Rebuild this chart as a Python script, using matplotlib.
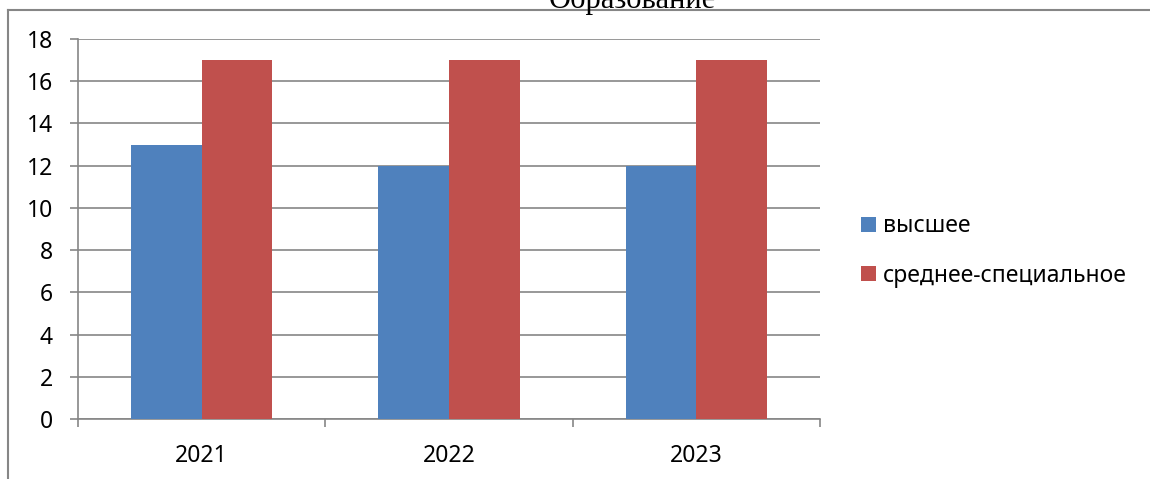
import numpy as np
import matplotlib.pyplot as plt
from matplotlib.lines import Line2D

# Данные
anos = ['2021', '2022', '2023']
vysshee = [13, 12, 12]
srednee_spec = [17, 17, 17]
y_ticks = list(range(0, 19, 2))

azul = '#4F81BD'
rojo = '#C0504D'
gris = '#868686'
fuente = ['Noto Sans', 'DejaVu Sans']

plt.rcParams['font.family'] = fuente

W, H = 1150, 479
fig = plt.figure(figsize=(W / 100, H / 100), dpi=100)

# Ejes en coordenadas de píxeles
x0, x1, y_top, y_bot = 78, 820, 39, 419
ax = fig.add_axes([x0 / W, 1 - y_bot / H, (x1 - x0) / W, (y_bot - y_top) / H])

x = np.arange(len(anos))
w = 1 / 3.5
ax.bar(x - w / 2, vysshee, w, color=azul, label='высшее', zorder=3)
ax.bar(x + w / 2, srednee_spec, w, color=rojo, label='среднее-специальное', zorder=3)

ax.set_xlim(-0.5, len(anos) - 0.5)
ax.set_ylim(0, 18)
ax.set_yticks(y_ticks)
ax.yaxis.grid(True, color=gris, linewidth=1.2, zorder=0)

ax.set_xticks(x)
ax.set_xticklabels(anos)
ax.set_xticks(np.arange(-0.5, len(anos)), minor=True)
ax.tick_params(axis='x', which='major', length=0, pad=18, labelsize=16.5)
ax.tick_params(axis='x', which='minor', length=6, width=1.2, color=gris, direction='out')
ax.tick_params(axis='y', length=6, width=1.2, color=gris, pad=12, labelsize=16.5)

for s in ['top', 'right']:
    ax.spines[s].set_visible(False)
for s in ['left', 'bottom']:
    ax.spines[s].set_color(gris)
    ax.spines[s].set_linewidth(1.2)

# Leyenda
ax.legend(loc='center left', bbox_to_anchor=(852 / W, 1 - 251 / H),
          bbox_transform=fig.transFigure, frameon=False, fontsize=16.5,
          handlelength=0.65, handleheight=0.65, handletextpad=0.3,
          labelspacing=1.1, borderaxespad=0)

# Marco y título cortado (como en el original)
fig.add_artist(Line2D([8 / W, 1], [1 - 10 / H, 1 - 10 / H], color=gris, linewidth=1.5))
fig.add_artist(Line2D([8 / W, 8 / W], [0, 1 - 10 / H], color=gris, linewidth=1.5))
fig.text(632 / W, 1 - 8 / H, 'Образование', ha='center', va='baseline',
         fontsize=22, family=['Liberation Serif', 'DejaVu Serif'])

fig.savefig('out.png', dpi=100)
